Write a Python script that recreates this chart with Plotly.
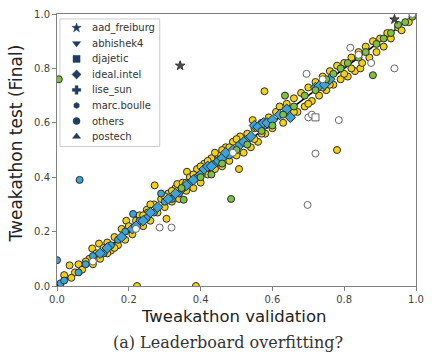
import plotly.graph_objects as go

# ---------------- data ----------------
yellow_x = [0.02, 0.035, 0.05, 0.06, 0.07, 0.09, 0.098, 0.10, 0.11, 0.117, 0.12, 0.13, 0.14, 0.15, 0.16, 0.17,
            0.18, 0.19, 0.193, 0.20, 0.21, 0.22, 0.23, 0.24, 0.25, 0.253, 0.26, 0.27, 0.272, 0.28, 0.29, 0.30,
            0.305, 0.31, 0.32, 0.33, 0.335, 0.34, 0.35, 0.36, 0.362, 0.37, 0.38, 0.39, 0.40, 0.41, 0.42, 0.43,
            0.44, 0.45, 0.46, 0.47, 0.48, 0.49, 0.50, 0.507, 0.51, 0.52, 0.53, 0.54, 0.545, 0.55, 0.56, 0.57,
            0.578, 0.58, 0.59, 0.60, 0.61, 0.62, 0.63, 0.64, 0.65, 0.66, 0.67, 0.68, 0.69, 0.70, 0.71, 0.72,
            0.73, 0.74, 0.75, 0.76, 0.77, 0.78, 0.78, 0.79, 0.80, 0.81, 0.82, 0.83, 0.84, 0.845, 0.85, 0.86,
            0.87, 0.88, 0.89, 0.90, 0.91, 0.92, 0.93, 0.95, 0.96, 0.98, 0.223, 0.387,
            0.40, 0.42, 0.44, 0.46, 0.38, 0.36, 0.32, 0.30, 0.26, 0.24, 0.48, 0.50, 0.55, 0.57, 0.66, 0.70,
            0.74, 0.76, 0.80, 0.82, 0.16, 0.14, 0.08, 0.04]
yellow_y = [0.04, 0.076, 0.05, 0.08, 0.06, 0.10, 0.138, 0.08, 0.12, 0.156, 0.10, 0.14, 0.16, 0.13, 0.18, 0.15,
            0.21, 0.17, 0.24, 0.22, 0.19, 0.24, 0.26, 0.22, 0.28, 0.27, 0.24, 0.30, 0.37, 0.27, 0.32, 0.29,
            0.247, 0.34, 0.31, 0.36, 0.375, 0.32, 0.38, 0.35, 0.42, 0.40, 0.36, 0.43, 0.38, 0.45, 0.41, 0.47,
            0.43, 0.48, 0.44, 0.51, 0.46, 0.53, 0.48, 0.43, 0.55, 0.49, 0.56, 0.51, 0.61, 0.58, 0.53, 0.60,
            0.716, 0.56, 0.62, 0.58, 0.64, 0.66, 0.60, 0.67, 0.62, 0.69, 0.64, 0.71, 0.66, 0.73, 0.68, 0.75,
            0.70, 0.77, 0.72, 0.79, 0.74, 0.81, 0.50, 0.76, 0.82, 0.77, 0.84, 0.79, 0.86, 0.80, 0.82, 0.88,
            0.84, 0.90, 0.86, 0.91, 0.88, 0.93, 0.91, 0.95, 0.94, 0.97, 0.0, 0.0,
            0.44, 0.46, 0.49, 0.50, 0.41, 0.38, 0.35, 0.33, 0.30, 0.26, 0.51, 0.54, 0.54, 0.56, 0.64, 0.67,
            0.73, 0.74, 0.78, 0.80, 0.14, 0.12, 0.09, 0.03]

blue_circle_x = [0.0, 0.063, 0.01, 0.02, 0.06, 0.08, 0.10, 0.13, 0.15, 0.17, 0.19, 0.212, 0.29, 0.23, 0.25,
                 0.27, 0.30, 0.32, 0.34, 0.37, 0.39, 0.44, 0.48, 0.53, 0.58]
blue_circle_y = [0.095, 0.39, 0.01, 0.02, 0.05, 0.08, 0.11, 0.12, 0.15, 0.17, 0.20, 0.265, 0.34, 0.24, 0.25,
                 0.27, 0.31, 0.32, 0.34, 0.38, 0.40, 0.45, 0.48, 0.54, 0.59]

blue_diamond_x = [0.12, 0.14, 0.18, 0.21, 0.22, 0.24, 0.26, 0.28, 0.31, 0.33, 0.35, 0.36, 0.38, 0.40, 0.41,
                  0.42, 0.43, 0.45, 0.46, 0.47, 0.49, 0.51, 0.52, 0.54, 0.55, 0.56, 0.575, 0.585, 0.60, 0.62,
                  0.65, 0.64, 0.72, 0.73, 0.745, 0.76]
blue_diamond_y = [0.12, 0.14, 0.18, 0.21, 0.22, 0.24, 0.27, 0.29, 0.32, 0.34, 0.36, 0.37, 0.39, 0.41, 0.43,
                  0.44, 0.44, 0.46, 0.47, 0.49, 0.50, 0.52, 0.53, 0.55, 0.59, 0.585, 0.60, 0.60, 0.61, 0.63,
                  0.62, 0.65, 0.73, 0.735, 0.74, 0.76]

green_x = [0.005, 0.485, 0.635, 0.88, 0.353, 0.347, 0.40, 0.43, 0.46, 0.50, 0.53, 0.57, 0.60, 0.63, 0.66,
           0.69, 0.72, 0.75, 0.77, 0.79, 0.81, 0.84, 0.86, 0.89, 0.91, 0.93, 0.95, 0.97, 0.99]
green_y = [0.76, 0.32, 0.70, 0.775, 0.317, 0.36, 0.40, 0.41, 0.45, 0.50, 0.52, 0.57, 0.59, 0.63, 0.66,
           0.70, 0.72, 0.76, 0.78, 0.80, 0.82, 0.84, 0.86, 0.89, 0.91, 0.93, 0.96, 0.97, 0.99]

white_x = [0.286, 0.319, 0.698, 0.72, 0.785, 0.70, 0.695, 0.94, 0.875, 0.817, 0.71, 0.10, 0.22, 0.49, 0.74,
           0.84, 0.99]
white_y = [0.215, 0.215, 0.298, 0.487, 0.61, 0.62, 0.78, 0.80, 0.82, 0.876, 0.63, 0.09, 0.21, 0.49, 0.76,
           0.85, 1.0]

white_square_x = [0.72]
white_square_y = [0.62]

star_x = [0.343, 0.94]
star_y = [0.81, 0.98]

diag = [0.0, 1.0]

legend_labels = ["aad_freiburg", "abhishek4", "djajetic", "ideal.intel", "lise_sun", "marc.boulle",
                 "others", "postech"]
legend_symbols = ["star", "triangle-down", "square", "diamond", "cross", "hexagon", "circle", "triangle-up"]
tick_vals = [0.0, 0.2, 0.4, 0.6, 0.8, 1.0]

# ---------------- figure ----------------
YEL = "#f5d10f"
BLU = "#3aa3dc"
GRN = "#7cc242"
EDGE = "#2b2b2b"
NAVY = "#1f3d5e"

fig = go.Figure()

fig.add_trace(go.Scatter(x=diag, y=diag, mode="lines", line=dict(color="black", width=1.5),
                         showlegend=False, hoverinfo="skip"))

def pts(x, y, color, symbol="circle", size=7, edge=EDGE):
    fig.add_trace(go.Scatter(x=x, y=y, mode="markers", showlegend=False,
                             marker=dict(color=color, symbol=symbol, size=size,
                                         line=dict(color=edge, width=1))))

pts(yellow_x, yellow_y, YEL)
pts(blue_circle_x, blue_circle_y, BLU)
pts(blue_diamond_x, blue_diamond_y, BLU, symbol="diamond", size=8)
pts(green_x, green_y, GRN)
pts(white_x, white_y, "white", edge="#666666")
pts(white_square_x, white_square_y, "white", symbol="square", edge="#666666")
pts(star_x, star_y, "#4a4a4a", symbol="star", size=7, edge="#333333")

# custom legend (layout positions in pixel constants)
PLOT_L, PLOT_T, PLOT_W, PLOT_H = 57, 11, 367, 275
box_l, box_t, box_r, box_b = 60, 16, 162, 145
row0, row_step = 25, 15.7
mk_x, txt_x = 77, 91

def px2x(p):
    return (p - PLOT_L) / PLOT_W

def py2y(p):
    return (PLOT_T + PLOT_H - p) / PLOT_H

fig.add_shape(type="rect", xref="paper", yref="paper",
              x0=px2x(box_l), x1=px2x(box_r), y0=py2y(box_b), y1=py2y(box_t),
              line=dict(color="#cccccc", width=1), fillcolor="white", layer="below")

for i, (lab, sym) in enumerate(zip(legend_labels, legend_symbols)):
    yy = py2y(row0 + i * row_step)
    fig.add_trace(go.Scatter(x=[px2x(mk_x)], y=[yy], xaxis="x2", yaxis="y2", mode="markers",
                             showlegend=False, hoverinfo="skip",
                             marker=dict(color=NAVY, symbol=sym,
                                         size=6 if sym in ("hexagon",) else 7,
                                         line=dict(color=NAVY, width=0.5))))
    fig.add_annotation(x=px2x(txt_x), y=yy, xref="paper", yref="paper", text=lab, showarrow=False,
                       xanchor="left", yanchor="middle",
                       font=dict(family="DejaVu Sans", size=10, color="#333333"))

axis_common = dict(range=[0, 1], tickvals=tick_vals, tickformat=".1f", showgrid=False, zeroline=False,
                   showline=True, linecolor="#808080", linewidth=1, mirror=True, ticks="outside",
                   ticklen=4, tickcolor="#808080",
                   tickfont=dict(family="DejaVu Sans", size=10, color="#444444"))

fig.update_layout(
    width=432, height=357,
    margin=dict(l=PLOT_L, r=432 - PLOT_L - PLOT_W, t=PLOT_T, b=357 - PLOT_T - PLOT_H),
    paper_bgcolor="white", plot_bgcolor="white",
    xaxis=dict(**axis_common),
    yaxis=dict(**axis_common),
    xaxis2=dict(range=[0, 1], overlaying="x", visible=False),
    yaxis2=dict(range=[0, 1], overlaying="y", visible=False),
    showlegend=False,
)

fig.add_annotation(x=0.493, y=py2y(317), xref="paper", yref="paper", text="Tweakathon validation",
                   showarrow=False, xanchor="center", yanchor="middle",
                   font=dict(family="DejaVu Sans", size=16.5, color="#222222"))
fig.add_annotation(x=px2x(15), y=py2y(142), xref="paper", yref="paper", text="Tweakathon test (Final)",
                   showarrow=False, xanchor="center", yanchor="middle", textangle=-90,
                   font=dict(family="DejaVu Sans", size=17, color="#222222"))
fig.add_annotation(x=px2x(232), y=py2y(343), xref="paper", yref="paper", text="(a) Leaderboard overfitting?",
                   showarrow=False, xanchor="center", yanchor="middle",
                   font=dict(family="DejaVu Serif", size=16, color="#333333"))

fig.write_html("out.html")
